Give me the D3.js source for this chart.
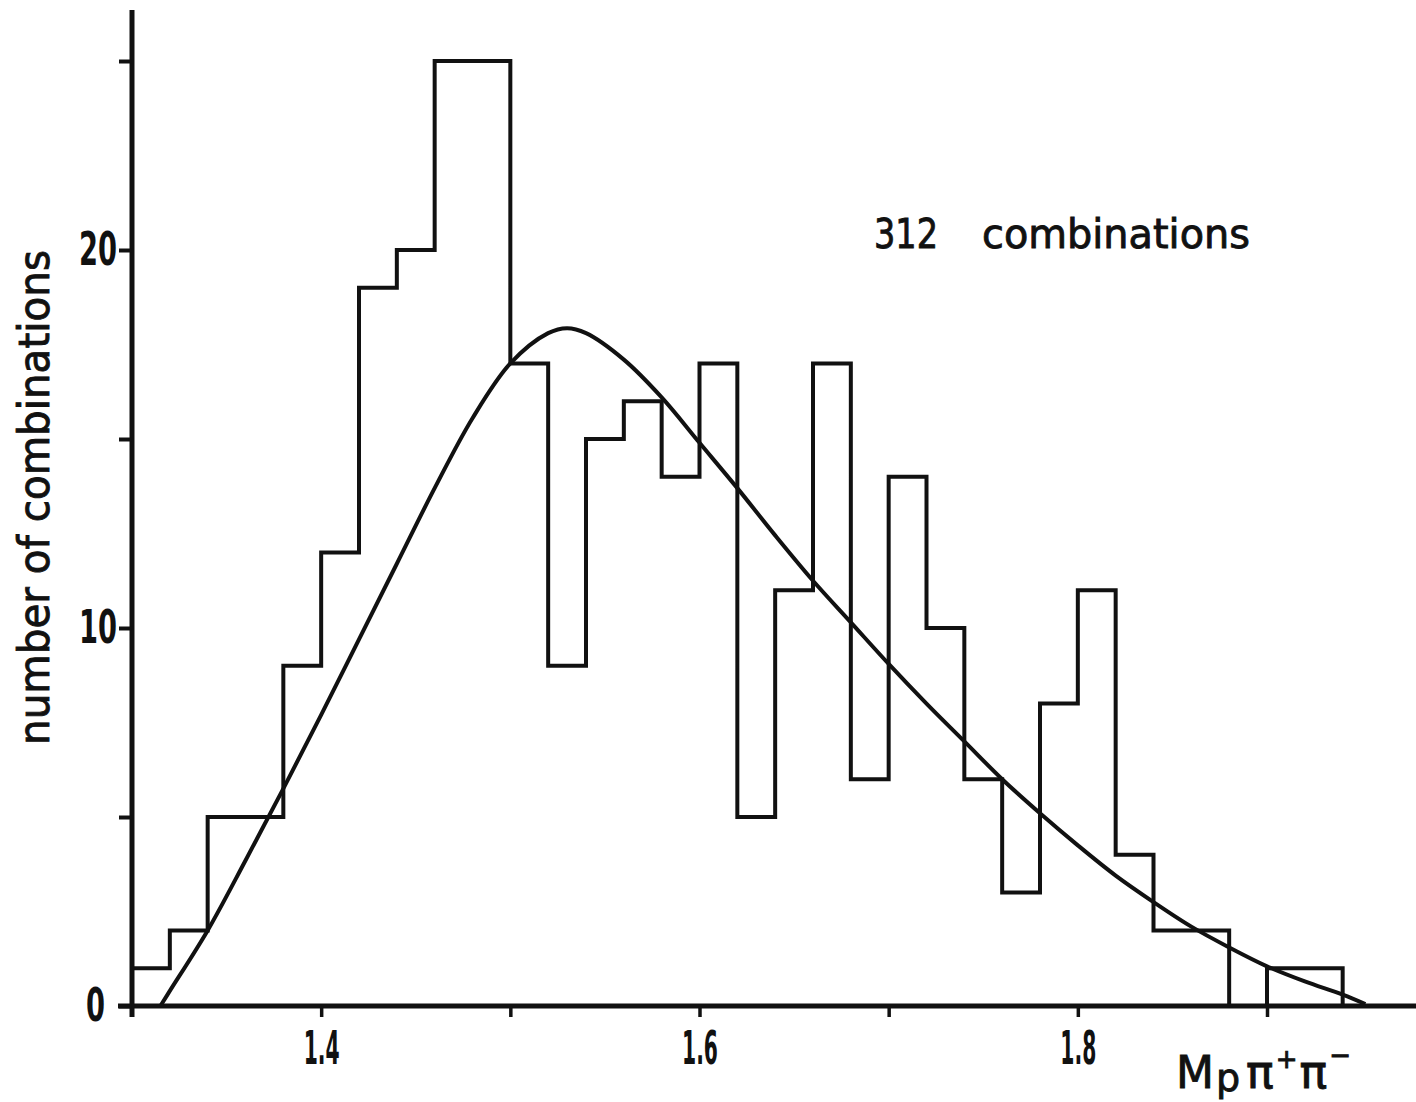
<!DOCTYPE html>
<html>
<head>
<meta charset="utf-8">
<script src="https://cdn.jsdelivr.net/npm/d3@7"></script>
<style>
  body { margin: 0; background: #fff; }
  svg { display: block; }
  text { font-family: "DejaVu Sans", sans-serif; fill: #111; stroke: #111; stroke-width: 0.9px; }
</style>
</head>
<body>
<div id="chart"></div>
<script>
// <-- ************ DATA ************ -->
// bin lower edges (GeV), bin width 0.02
const BIN_EDGES = [1.30, 1.32, 1.34, 1.36, 1.38, 1.40, 1.42, 1.44, 1.46, 1.48,
                   1.50, 1.52, 1.54, 1.56, 1.58, 1.60, 1.62, 1.64, 1.66, 1.68,
                   1.70, 1.72, 1.74, 1.76, 1.78, 1.80, 1.82, 1.84, 1.86, 1.88,
                   1.90, 1.92];
const BIN_COUNTS = [1, 2, 5, 5, 9, 12, 19, 20, 25, 25,
                    17, 9, 15, 16, 14, 17, 5, 11, 17, 6,
                    14, 10, 6, 3, 8, 11, 4, 2, 2, 0,
                    1, 1];
const BIN_WIDTH = 0.02;

// fitted curve
const CURVE_X = [1.315, 1.32, 1.34, 1.36, 1.38, 1.40, 1.42, 1.44, 1.46, 1.48,
                 1.50, 1.52, 1.53, 1.54, 1.56, 1.58, 1.60, 1.62, 1.64, 1.66,
                 1.68, 1.70, 1.72, 1.74, 1.76, 1.78, 1.80, 1.82, 1.84, 1.86,
                 1.88, 1.90, 1.92, 1.94, 1.952];
const CURVE_Y = [0, 0.4, 2.0, 3.85, 5.75, 7.7, 9.7, 11.7, 13.7, 15.55,
                 17.0, 17.8, 17.93, 17.8, 17.1, 16.1, 14.9, 13.7, 12.45, 11.25,
                 10.15, 9.05, 8.0, 7.0, 6.0, 5.1, 4.25, 3.45, 2.75, 2.1,
                 1.55, 1.05, 0.65, 0.3, 0.05];

const X_TICKS = [1.4, 1.5, 1.6, 1.7, 1.8, 1.9];
const X_TICK_LABELS = ["1.4", "", "1.6", "", "1.8", ""];
const Y_TICKS = [0, 5, 10, 15, 20, 25];
const Y_TICK_LABELS = ["0", "", "10", "", "20", ""];

// <-- ************ FRAME ************ -->
const FRAME_WIDTH = 1416;
const FRAME_HEIGHT = 1102;

const X_SCALE = d3.scaleLinear().domain([1.3, 1.9]).range([132, 1267]);
const Y_SCALE = d3.scaleLinear().domain([0, 20]).range([1006, 250]);

const svg = d3.select("#chart")
  .append("svg")
  .attr("width", FRAME_WIDTH)
  .attr("height", FRAME_HEIGHT);

// <-- ************ HISTOGRAM ************ -->
let steps = [[BIN_EDGES[0], 0]];
BIN_EDGES.forEach((e, i) => {
  steps.push([e, BIN_COUNTS[i]]);
  steps.push([e + BIN_WIDTH, BIN_COUNTS[i]]);
});
steps.push([BIN_EDGES[BIN_EDGES.length - 1] + BIN_WIDTH, 0]);

svg.append("path")
  .datum(steps)
  .attr("d", d3.line().x((d) => X_SCALE(d[0])).y((d) => Y_SCALE(d[1])))
  .attr("fill", "none")
  .attr("stroke", "#111")
  .attr("stroke-width", 4)
  .attr("stroke-linejoin", "miter");

// <-- ************ CURVE ************ -->
svg.append("path")
  .datum(CURVE_X.map((x, i) => [x, CURVE_Y[i]]))
  .attr("d", d3.line()
    .x((d) => X_SCALE(d[0]))
    .y((d) => Y_SCALE(d[1]))
    .curve(d3.curveCatmullRom.alpha(0.5)))
  .attr("fill", "none")
  .attr("stroke", "#111")
  .attr("stroke-width", 4);

// <-- ************ AXES ************ -->
// x axis line runs past the last tick to the edge
svg.append("line")
  .attr("x1", 118).attr("x2", FRAME_WIDTH)
  .attr("y1", Y_SCALE(0)).attr("y2", Y_SCALE(0))
  .attr("stroke", "#111").attr("stroke-width", 5);

svg.append("line")
  .attr("x1", X_SCALE(1.3)).attr("x2", X_SCALE(1.3))
  .attr("y1", 10).attr("y2", 1017)
  .attr("stroke", "#111").attr("stroke-width", 5);

const xAxis = svg.append("g")
  .attr("transform", "translate(0," + Y_SCALE(0) + ")")
  .call(d3.axisBottom(X_SCALE).tickValues(X_TICKS)
    .tickFormat((d, i) => X_TICK_LABELS[i]).tickSize(11).tickPadding(14));
xAxis.select(".domain").remove();
xAxis.selectAll(".tick line").attr("stroke", "#111").attr("stroke-width", 3.5);
xAxis.selectAll(".tick text")
  .attr("font-size", 46)
  .attr("font-weight", "bold")
  .attr("font-family", "DejaVu Sans, sans-serif")
  .attr("fill", "#111")
  .style("stroke-width", "0px")
  .filter((d, i) => X_TICK_LABELS[i] !== "")
  .attr("textLength", 36)
  .attr("lengthAdjust", "spacingAndGlyphs");

const yAxis = svg.append("g")
  .attr("transform", "translate(" + X_SCALE(1.3) + ",0)")
  .call(d3.axisLeft(Y_SCALE).tickValues(Y_TICKS)
    .tickFormat((d, i) => Y_TICK_LABELS[i]).tickSize(13).tickPadding(2));
yAxis.select(".domain").remove();
yAxis.selectAll(".tick line").attr("stroke", "#111").attr("stroke-width", 4);
yAxis.selectAll(".tick text")
  .attr("font-size", 46)
  .attr("font-weight", "bold")
  .attr("font-family", "DejaVu Sans, sans-serif")
  .attr("fill", "#111")
  .style("stroke-width", "0px")
  .attr("textLength", (d) => d === 0 ? 19 : 38)
  .attr("lengthAdjust", "spacingAndGlyphs");
yAxis.selectAll(".tick").filter((d) => d === 0).select("text").attr("dx", -12);

// <-- ************ TEXT ************ -->
svg.append("text")
  .attr("transform", "translate(49,745) rotate(-90)")
  .attr("font-size", 42)
  .attr("textLength", 495)
  .attr("lengthAdjust", "spacingAndGlyphs")
  .text("number of combinations");

svg.append("text")
  .attr("x", 874).attr("y", 248)
  .attr("font-size", 41)
  .attr("textLength", 64)
  .attr("lengthAdjust", "spacingAndGlyphs")
  .text("312");

svg.append("text")
  .attr("x", 982).attr("y", 248)
  .attr("font-size", 41)
  .attr("textLength", 268)
  .attr("lengthAdjust", "spacingAndGlyphs")
  .text("combinations");

const xl = svg.append("text")
  .attr("x", 1176).attr("y", 1088)
  .attr("font-size", 44)
  .attr("font-family", "DejaVu Sans, sans-serif");
xl.append("tspan").text("M");
xl.append("tspan").attr("font-size", 38).attr("dx", 2).attr("dy", 3).text("p");
xl.append("tspan").attr("font-size", 46).attr("dx", 6).attr("dy", -3).text("π");
xl.append("tspan").attr("font-size", 26).attr("dx", 2).attr("dy", -20).text("+");
xl.append("tspan").attr("font-size", 46).attr("dx", 2).attr("dy", 20).text("π");
xl.append("tspan").attr("font-size", 26).attr("dx", 2).attr("dy", -24).text("−");
</script>
</body>
</html>
